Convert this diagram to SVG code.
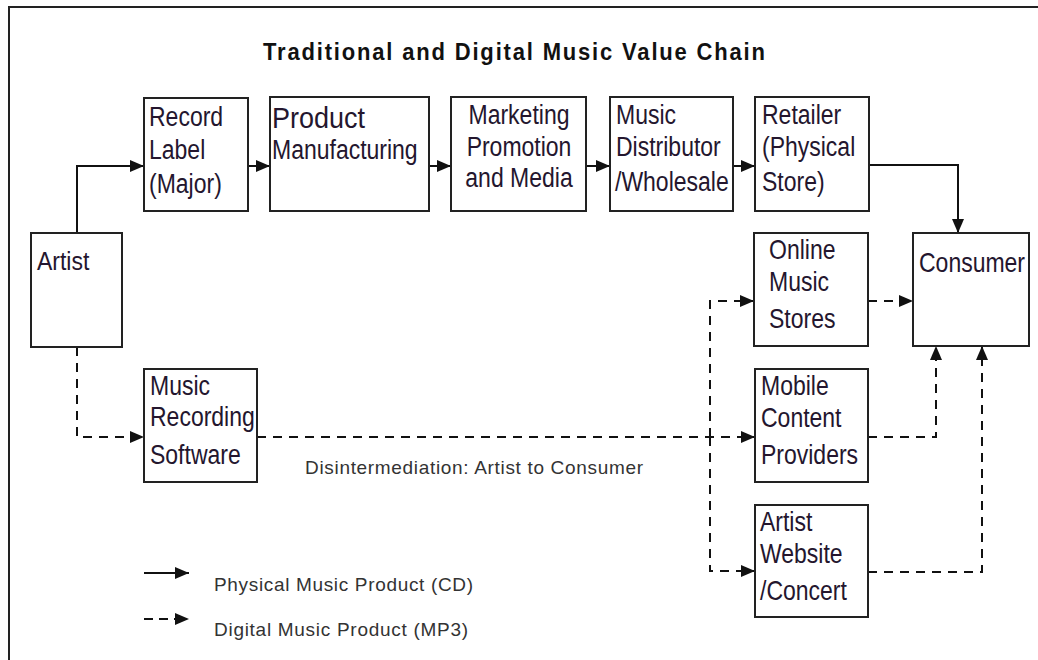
<svg xmlns="http://www.w3.org/2000/svg" width="1038" height="660" viewBox="0 0 1038 660">
  <defs>
    <style>
      .frame { fill: none; stroke: #222; stroke-width: 2; }
      .box { fill: #fff; stroke: #222; stroke-width: 2; }
      .lbl { font-family: "Liberation Sans", Arial, sans-serif; font-size: 23px; fill: #24162e; }
      .big { font-size: 27px; }
      .note { font-family: "Liberation Sans", Arial, sans-serif; font-size: 19px; fill: #333; }
      .title { font-family: "Liberation Sans", Arial, sans-serif; font-size: 22px; font-weight: bold; fill: #111; }
      .solid { fill: none; stroke: #111; stroke-width: 2; }
      .dash { fill: none; stroke: #111; stroke-width: 2; stroke-dasharray: 9 7; }
    </style>
    <marker id="arrow" markerUnits="userSpaceOnUse" markerWidth="14" markerHeight="12" refX="14" refY="6" orient="auto">
      <path d="M0,0 L14,6 L0,12 z" fill="#111"/>
    </marker>
  </defs>

  <rect width="1038" height="660" fill="#fff"/>
  <!-- outer frame (top and left edges) -->
  <path class="frame" d="M9,660 L9,7 L1038,7"/>

  <text class="title" transform="translate(263,60) scale(1,1.05)" textLength="502" lengthAdjust="spacing">Traditional and Digital Music Value Chain</text>

  <!-- connectors -->
  <g id="connectors">
    <path class="solid" d="M77,233 L77,166 L144,166" marker-end="url(#arrow)"/>
    <path class="solid" d="M248,166 L270,166" marker-end="url(#arrow)"/>
    <path class="solid" d="M429,166 L451,166" marker-end="url(#arrow)"/>
    <path class="solid" d="M586,166 L610,166" marker-end="url(#arrow)"/>
    <path class="solid" d="M733,166 L755,166" marker-end="url(#arrow)"/>
    <path class="solid" d="M869,165 L958,165 L958,233" marker-end="url(#arrow)"/>

    <path class="dash" d="M77,347 L77,437 L144,437" marker-end="url(#arrow)"/>
    <path class="dash" d="M257,437 L755,437" marker-end="url(#arrow)"/>
    <path class="dash" d="M710,437 L710,301 L754,301" marker-end="url(#arrow)"/>
    <path class="dash" d="M710,437 L710,571 L755,571" marker-end="url(#arrow)"/>
    <path class="dash" d="M868,301 L913,301" marker-end="url(#arrow)"/>
    <path class="dash" d="M868,437 L936,437 L936,346" marker-end="url(#arrow)"/>
    <path class="dash" d="M868,572 L982,572 L982,346" marker-end="url(#arrow)"/>
  </g>

  <!-- nodes -->
  <g id="artist">
    <rect class="box" x="31" y="233" width="91" height="114"/>
    <text class="lbl" font-size="26" transform="translate(37,270) scale(1,1.15)">Artist</text>
  </g>

  <g id="record-label">
    <rect class="box" x="144" y="98" width="104" height="113"/>
    <text class="lbl" transform="translate(149,126) scale(1,1.17)">Record</text>
    <text class="lbl" transform="translate(149,159) scale(1,1.17)">Label</text>
    <text class="lbl" transform="translate(149,193) scale(1,1.17)">(Major)</text>
  </g>

  <g id="product-manufacturing">
    <rect class="box" x="270" y="97" width="159" height="114"/>
    <text class="lbl big" transform="translate(272,128) scale(1,1.1)">Product</text>
    <text class="lbl" transform="translate(272,159) scale(1,1.17)">Manufacturing</text>
  </g>

  <g id="marketing">
    <rect class="box" x="451" y="97" width="135" height="114"/>
    <text class="lbl" text-anchor="middle" transform="translate(519,124) scale(1,1.17)">Marketing</text>
    <text class="lbl" text-anchor="middle" transform="translate(519,156) scale(1,1.17)">Promotion</text>
    <text class="lbl" text-anchor="middle" transform="translate(519,187) scale(1,1.17)">and Media</text>
  </g>

  <g id="distributor">
    <rect class="box" x="610" y="97" width="123" height="114"/>
    <text class="lbl" transform="translate(616,124) scale(1,1.17)">Music</text>
    <text class="lbl" transform="translate(616,156) scale(1,1.17)">Distributor</text>
    <text class="lbl" transform="translate(615,191) scale(1,1.17)">/Wholesale</text>
  </g>

  <g id="retailer">
    <rect class="box" x="755" y="97" width="114" height="114"/>
    <text class="lbl" transform="translate(762,124) scale(1,1.17)">Retailer</text>
    <text class="lbl" transform="translate(762,156) scale(1,1.17)">(Physical</text>
    <text class="lbl" transform="translate(762,191) scale(1,1.17)">Store)</text>
  </g>

  <g id="online-music-stores">
    <rect class="box" x="754" y="233" width="114" height="113"/>
    <text class="lbl" transform="translate(769,259) scale(1,1.17)">Online</text>
    <text class="lbl" transform="translate(769,291) scale(1,1.17)">Music</text>
    <text class="lbl" transform="translate(769,328) scale(1,1.17)">Stores</text>
  </g>

  <g id="consumer">
    <rect class="box" x="913" y="233" width="116" height="113"/>
    <text class="lbl" transform="translate(919,272) scale(1,1.17)">Consumer</text>
  </g>

  <g id="music-recording-software">
    <rect class="box" x="144" y="369" width="113" height="113"/>
    <text class="lbl" transform="translate(150,395) scale(1,1.17)">Music</text>
    <text class="lbl" transform="translate(150,426) scale(1,1.17)">Recording</text>
    <text class="lbl" transform="translate(150,464) scale(1,1.17)">Software</text>
  </g>

  <g id="mobile-content-providers">
    <rect class="box" x="755" y="369" width="113" height="113"/>
    <text class="lbl" transform="translate(761,395) scale(1,1.17)">Mobile</text>
    <text class="lbl" transform="translate(761,427) scale(1,1.17)">Content</text>
    <text class="lbl" transform="translate(761,464) scale(1,1.17)">Providers</text>
  </g>

  <g id="artist-website">
    <rect class="box" x="755" y="505" width="113" height="112"/>
    <text class="lbl" transform="translate(760,531) scale(1,1.17)">Artist</text>
    <text class="lbl" transform="translate(760,563) scale(1,1.17)">Website</text>
    <text class="lbl" transform="translate(760,600) scale(1,1.17)">/Concert</text>
  </g>

  <text class="note" x="305" y="474" textLength="338" lengthAdjust="spacing">Disintermediation: Artist to Consumer</text>

  <!-- legend -->
  <g id="legend">
    <path class="solid" d="M144,573 L189,573" marker-end="url(#arrow)"/>
    <text class="note" x="214" y="591" textLength="259" lengthAdjust="spacing">Physical Music Product (CD)</text>
    <path class="dash" d="M144,619 L189,619" style="stroke-dasharray: 9 6" marker-end="url(#arrow)"/>
    <text class="note" x="214" y="636" textLength="254" lengthAdjust="spacing">Digital Music Product (MP3)</text>
  </g>
</svg>
